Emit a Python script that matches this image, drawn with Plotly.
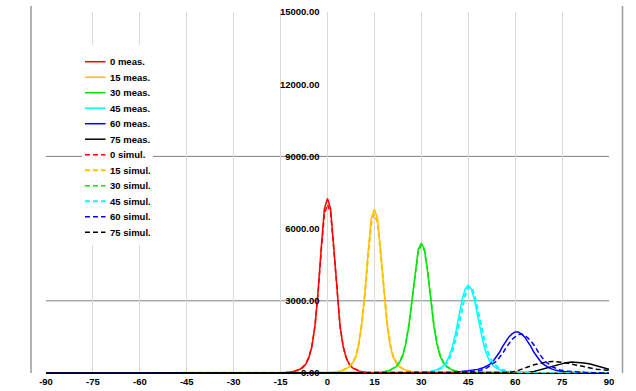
import plotly.graph_objects as go

# ---------------- data ----------------
x_ticks = [-90, -75, -60, -45, -30, -15, 0, 15, 30, 45, 60, 75, 90]
y_ticks = [0, 3000, 6000, 9000, 12000, 15000]
ref_lines = [3000, 9000]

x_0_meas = [-90, -15, -12, -10, -8, -7, -6, -5, -4, -3, -2, -1, 0, 1, 2, 3, 4, 5, 6, 7, 8, 10, 12, 15, 90]
y_0_meas = [0, 0, 35, 85, 215, 350, 615, 1090, 1960, 3410, 5220, 6815, 7250, 6815, 5220, 3410, 1960, 1090, 615, 350, 215, 85, 35, 0, 0]
x_0_sim = [-90, -15, -12, -10, -8, -7, -6, -5, -4, -3, -2, -1, 0, 1, 2, 3, 4, 5, 6, 7, 8, 10, 12, 15, 90]
y_0_sim = [0, 10, 45, 100, 240, 380, 650, 1120, 1950, 3330, 5060, 6580, 7000, 6640, 5150, 3380, 1980, 1120, 640, 370, 225, 90, 35, 5, 0]

x_15_meas = [-90, 0, 3, 5, 7, 8, 9, 10, 11, 12, 13, 14, 15, 16, 17, 18, 19, 20, 21, 22, 23, 25, 27, 30, 90]
y_15_meas = [0, 0, 40, 110, 250, 410, 645, 1190, 2110, 3400, 5030, 6425, 6800, 6425, 5030, 3400, 2110, 1190, 645, 410, 250, 110, 40, 0, 0]
x_15_sim = [-90, 0, 3, 5, 7, 8, 9, 10, 11, 12, 13, 14, 15, 16, 17, 18, 19, 20, 21, 22, 23, 25, 27, 30, 90]
y_15_sim = [0, 5, 45, 120, 265, 430, 670, 1200, 2080, 3310, 4870, 6220, 6600, 6260, 4950, 3370, 2130, 1230, 690, 440, 270, 120, 45, 5, 0]

x_30_meas = [-90, 15, 18, 20, 22, 23, 24, 25, 26, 27, 28, 29, 30, 31, 32, 33, 34, 35, 36, 37, 38, 40, 42, 45, 90]
y_30_meas = [0, 0, 45, 110, 260, 430, 700, 1190, 1945, 2970, 4210, 5130, 5400, 5130, 4210, 2970, 1945, 1190, 700, 430, 260, 110, 45, 0, 0]
x_30_sim = [-90, 15, 18, 20, 22, 23, 24, 25, 26, 27, 28, 29, 30, 31, 32, 33, 34, 35, 36, 37, 38, 40, 42, 45, 90]
y_30_sim = [0, 5, 50, 120, 280, 460, 740, 1240, 1990, 2980, 4160, 5030, 5300, 5080, 4250, 3040, 2030, 1260, 760, 470, 290, 125, 55, 10, 0]

x_45_meas = [-90, 27, 30, 33, 35, 37, 38, 39, 40, 41, 42, 43, 44, 45, 46, 47, 48, 49, 50, 51, 52, 53, 55, 57, 60, 63, 90]
y_45_meas = [0, 0, 20, 65, 135, 290, 455, 730, 1130, 1680, 2370, 3030, 3485, 3650, 3485, 3030, 2370, 1680, 1130, 730, 455, 290, 135, 65, 20, 0, 0]
x_45_sim = [-90, 27, 30, 33, 35, 37, 38, 39, 40, 41, 42, 43, 44, 45, 46, 47, 48, 49, 50, 51, 52, 53, 55, 57, 60, 63, 90]
y_45_sim = [0, 0, 15, 50, 110, 240, 375, 600, 930, 1400, 2010, 2680, 3240, 3560, 3570, 3250, 2710, 2060, 1450, 980, 640, 410, 180, 85, 30, 5, 0]

x_60_meas = [-90, 40, 45, 48, 50, 52, 53, 54, 55, 56, 57, 58, 59, 60, 61, 62, 63, 64, 65, 66, 67, 68, 69, 71, 73, 75, 78, 82, 90]
y_60_meas = [0, 17, 90, 150, 230, 370, 500, 670, 860, 1110, 1330, 1500, 1625, 1705, 1705, 1625, 1500, 1330, 1110, 860, 670, 500, 370, 200, 110, 65, 35, 14, 0]
x_60_sim = [-90, 42, 46, 49, 51, 53, 54, 55, 56, 57, 58, 59, 60, 61, 62, 63, 64, 65, 66, 67, 68, 69, 70, 72, 74, 76, 79, 83, 90]
y_60_sim = [0, 20, 55, 115, 210, 390, 490, 650, 810, 1035, 1230, 1395, 1505, 1595, 1620, 1570, 1460, 1335, 1165, 940, 745, 580, 440, 250, 140, 80, 40, 15, 0]

x_75_meas = [-90, 60, 62, 64, 66, 68, 70, 72, 74, 76, 78, 80, 82, 84, 86, 88, 90]
y_75_meas = [0, 0, 5, 20, 60, 130, 210, 290, 360, 420, 460, 455, 420, 370, 300, 225, 155]
x_75_sim = [-90, 54, 56, 58, 60, 62, 64, 66, 68, 70, 72, 74, 76, 78, 80, 82, 84, 86, 88, 90]
y_75_sim = [0, 0, 5, 20, 60, 140, 250, 340, 410, 460, 480, 470, 430, 370, 310, 255, 200, 160, 130, 110]

series_names = ["0 meas.", "15 meas.", "30 meas.", "45 meas.", "60 meas.", "75 meas.",
                "0 simul.", "15 simul.", "30 simul.", "45 simul.", "60 simul.", "75 simul."]
series_x = [x_0_meas, x_15_meas, x_30_meas, x_45_meas, x_60_meas, x_75_meas,
            x_0_sim, x_15_sim, x_30_sim, x_45_sim, x_60_sim, x_75_sim]
series_y = [y_0_meas, y_15_meas, y_30_meas, y_45_meas, y_60_meas, y_75_meas,
            y_0_sim, y_15_sim, y_30_sim, y_45_sim, y_60_sim, y_75_sim]

# ---------------- styles ----------------
palette = ["#FF0000", "#FFC000", "#00E600", "#00FFFF", "#0000FF", "#000000"]
colors = palette + palette
dashes = ["solid"] * 6 + ["5px,3px"] * 6
widths = [1.5] * 6 + [1.5, 2, 1.5, 2, 1.5, 1.5]
FONT = "Liberation Sans, Arial, sans-serif"

fig = go.Figure()
for name, xs, ys, c, d, w in zip(series_names, series_x, series_y, colors, dashes, widths):
    fig.add_trace(go.Scatter(x=xs, y=ys, mode="lines", name=name,
                             line=dict(color=c, dash=d, width=w), showlegend=False,
                             hoverinfo="x+y+name"))

# On-screen plot area (body margin removed via post_script)
W, H = 636, 391
PL, PR, PT, PB = 46, 609, 12, 373
pw, ph = PR - PL, PB - PT
def px(x):
    return (x - PL) / pw
def py(y):
    return (PB - y) / ph

shapes = []
for v in ref_lines:
    shapes.append(dict(type="line", xref="paper", yref="y", x0=0, x1=1, y0=v, y1=v,
                       line=dict(color="#808080", width=1), layer="below"))
# outer frame lines
for xp in (31, 622.5):
    shapes.append(dict(type="line", xref="paper", yref="paper", x0=px(xp), x1=px(xp),
                       y0=0, y1=py(6), line=dict(color="#9A9A9A", width=1.5), layer="below"))
# legend box
shapes.append(dict(type="rect", xref="paper", yref="paper", x0=px(82), x1=px(153),
                   y0=py(245), y1=py(45), fillcolor="white", line=dict(width=0), layer="above"))
annotations = []
for i, (name, c, d, w) in enumerate(zip(series_names, colors, dashes, widths)):
    yy = 61.7 + 15.5 * i
    shapes.append(dict(type="line", xref="paper", yref="paper", x0=px(85), x1=px(105.5),
                       y0=py(yy), y1=py(yy), line=dict(color=c, dash=d, width=w), layer="above"))
    annotations.append(dict(xref="paper", yref="paper", x=px(108), y=py(yy), text="<b>%s</b>" % name,
                            showarrow=False, xanchor="left", yanchor="middle",
                            font=dict(family=FONT, size=9.5, color="#000")))

fig.update_layout(
    width=W, height=H,
    margin=dict(l=PL, r=W - PR, t=PT, b=H - PB, pad=0),
    plot_bgcolor="white", paper_bgcolor="white", showlegend=False,
    shapes=shapes, annotations=annotations,
    font=dict(family=FONT, size=9.5, color="#000"),
    xaxis=dict(range=[-90, 90], tickvals=x_ticks, ticktext=["<b>%d</b>" % v for v in x_ticks],
               showgrid=True, gridcolor="#D9D9D9", gridwidth=1, zeroline=False,
               showline=True, linecolor="#000033", linewidth=1, ticks="", automargin=False,
               tickfont=dict(family=FONT, size=9.5, color="#000")),
    yaxis=dict(range=[0, 15000], tickvals=y_ticks, ticktext=["<b>%.2f</b>" % v for v in y_ticks],
               anchor="free", position=0.5, showgrid=False, zeroline=False, showline=False,
               ticks="", ticklabelstandoff=8, automargin=False,
               tickfont=dict(family=FONT, size=9.5, color="#000")),
)

fig.write_html("out.html", config={"displayModeBar": False},
               post_script="document.body.style.margin='0';")
